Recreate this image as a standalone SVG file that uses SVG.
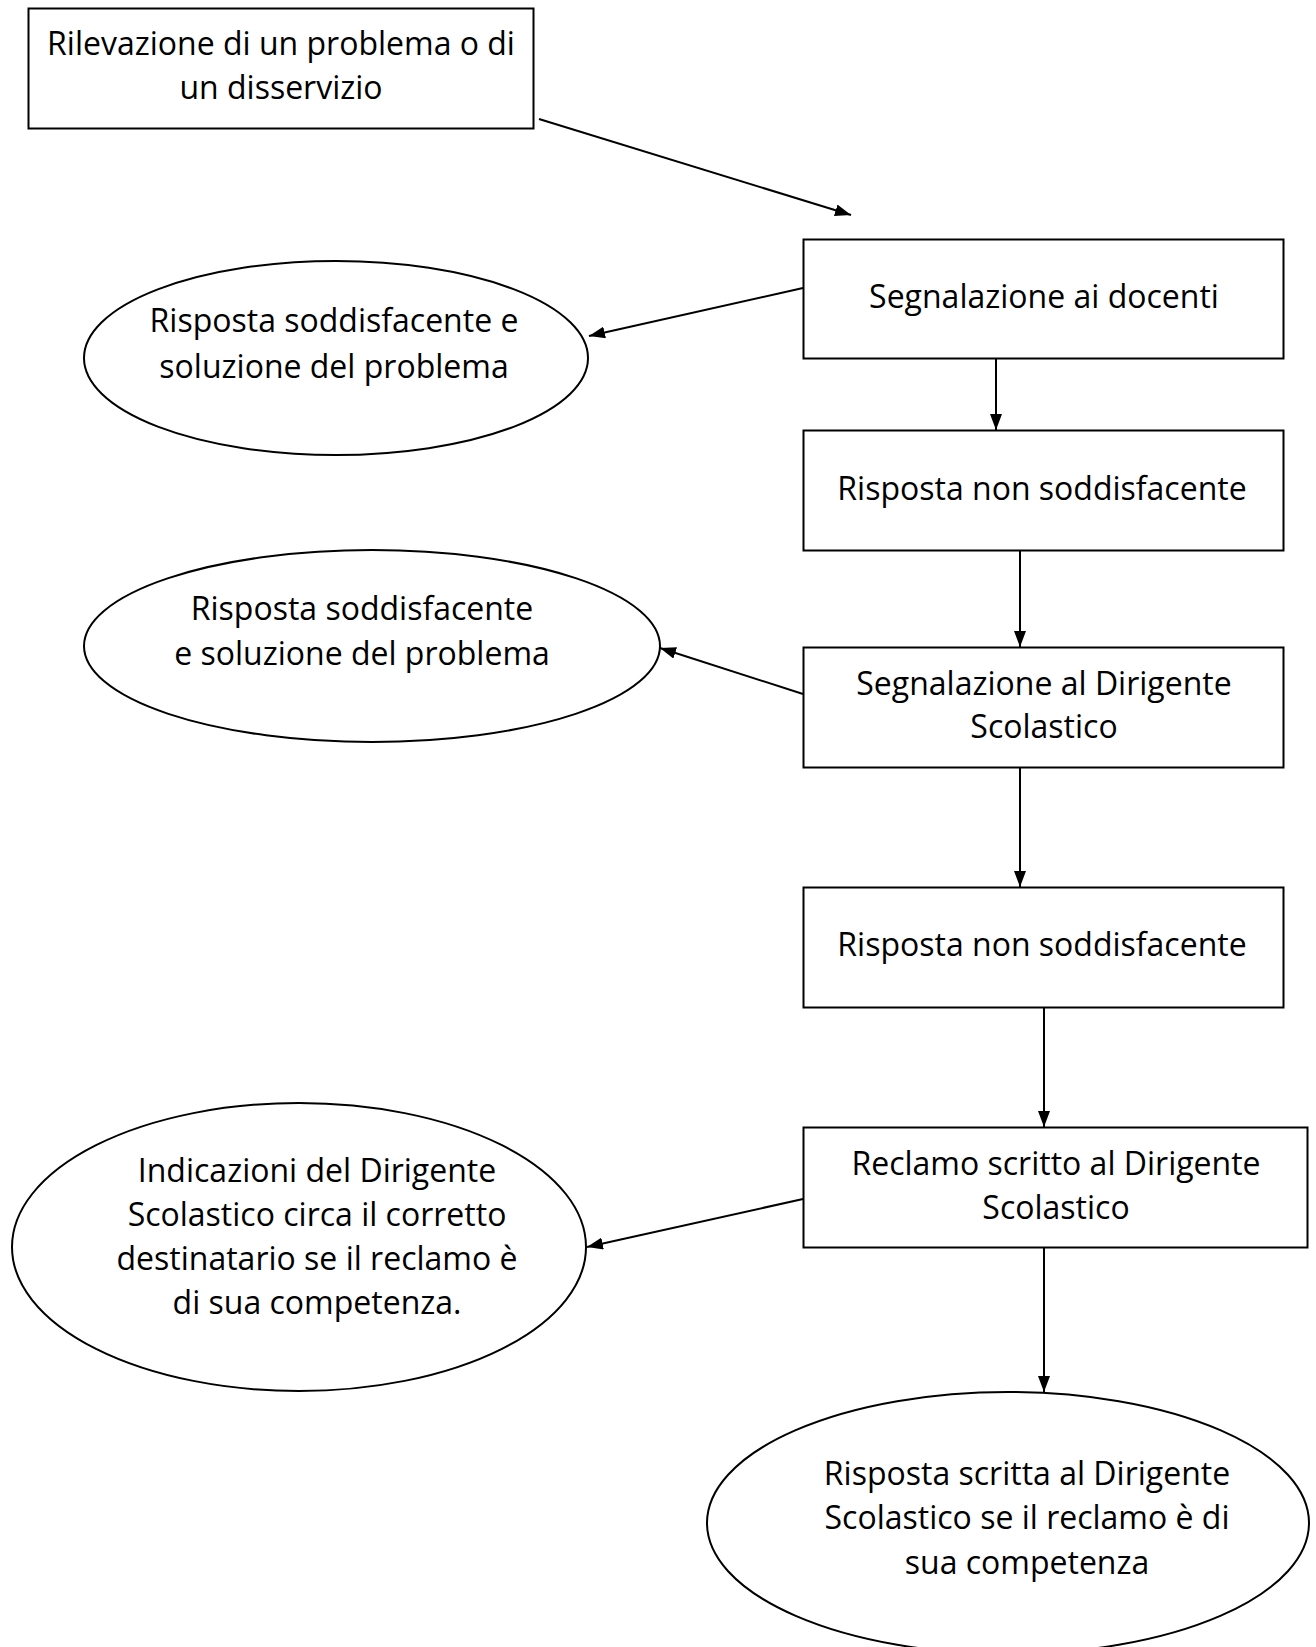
<svg xmlns="http://www.w3.org/2000/svg" width="1316" height="1647" viewBox="0 0 1316 1647">
<style>
.n{fill:#fff;stroke:#000;stroke-width:2}
.t{font-family:"Comic Sans MS","Open Sans","DejaVu Sans",sans-serif;font-size:32px;fill:#000;text-anchor:middle}
.c{stroke:#000;stroke-width:2;fill:none;marker-end:url(#ah)}
</style>
<defs>
<marker id="ah" viewBox="0 0 16 12" refX="16" refY="6" markerWidth="16" markerHeight="12" markerUnits="userSpaceOnUse" orient="auto">
<path d="M0,0 L16,6 L0,12 z" fill="#000"/>
</marker>
</defs>
<rect width="1316" height="1647" fill="#fff"/>
<g id="connectors">
<line class="c" x1="539" y1="119" x2="851" y2="215"/>
<line class="c" x1="803" y1="288" x2="589" y2="336"/>
<line class="c" x1="996" y1="358" x2="996" y2="430"/>
<line class="c" x1="1020" y1="550" x2="1020" y2="647"/>
<line class="c" x1="803" y1="694" x2="660" y2="648"/>
<line class="c" x1="1020" y1="767" x2="1020" y2="887"/>
<line class="c" x1="1044" y1="1007" x2="1044" y2="1127"/>
<line class="c" x1="803" y1="1199" x2="587" y2="1247"/>
<line class="c" x1="1044" y1="1247" x2="1044" y2="1392"/>
</g>
<g id="n1">
<rect class="n" x="28.5" y="8.5" width="505" height="120"/>
<text class="t" x="281" y="55">Rilevazione di un problema o di</text>
<text class="t" x="281" y="99">un disservizio</text>
</g>
<g id="n2">
<rect class="n" x="803.5" y="239.5" width="480" height="119"/>
<text class="t" x="1044" y="308">Segnalazione ai docenti</text>
</g>
<g id="n3">
<ellipse class="n" cx="336" cy="358" rx="252" ry="97"/>
<text class="t" x="334" y="332">Risposta soddisfacente e</text>
<text class="t" x="334" y="378">soluzione del problema</text>
</g>
<g id="n4">
<rect class="n" x="803.5" y="430.5" width="480" height="120"/>
<text class="t" x="1042" y="500">Risposta non soddisfacente</text>
</g>
<g id="n5">
<ellipse class="n" cx="372" cy="646" rx="288" ry="96"/>
<text class="t" x="362" y="620">Risposta soddisfacente</text>
<text class="t" x="362" y="665">e soluzione del problema</text>
</g>
<g id="n6">
<rect class="n" x="803.5" y="647.5" width="480" height="120"/>
<text class="t" x="1044" y="695">Segnalazione al Dirigente</text>
<text class="t" x="1044" y="738">Scolastico</text>
</g>
<g id="n7">
<rect class="n" x="803.5" y="887.5" width="480" height="120"/>
<text class="t" x="1042" y="956">Risposta non soddisfacente</text>
</g>
<g id="n8">
<rect class="n" x="803.5" y="1127.5" width="504" height="120"/>
<text class="t" x="1056" y="1175">Reclamo scritto al Dirigente</text>
<text class="t" x="1056" y="1219">Scolastico</text>
</g>
<g id="n9">
<ellipse class="n" cx="299" cy="1247" rx="287" ry="144"/>
<text class="t" x="317" y="1182">Indicazioni del Dirigente</text>
<text class="t" x="317" y="1226">Scolastico circa il corretto</text>
<text class="t" x="317" y="1270">destinatario se il reclamo è</text>
<text class="t" x="317" y="1314">di sua competenza.</text>
</g>
<g id="n10">
<ellipse class="n" cx="1008" cy="1523" rx="301" ry="131"/>
<text class="t" x="1027" y="1485">Risposta scritta al Dirigente</text>
<text class="t" x="1027" y="1529">Scolastico se il reclamo è di</text>
<text class="t" x="1027" y="1574">sua competenza</text>
</g>
</svg>
